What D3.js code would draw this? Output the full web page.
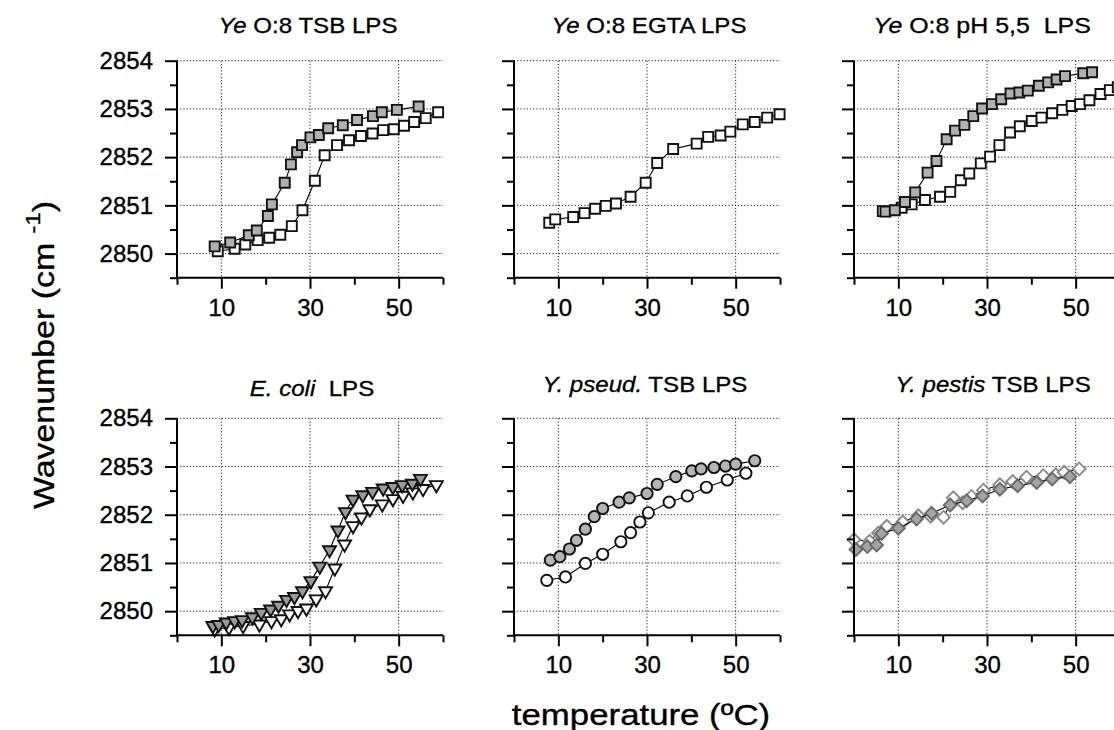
<!DOCTYPE html>
<html><head><meta charset="utf-8">
<script src="https://cdn.jsdelivr.net/npm/d3@7"></script>
<style>
body{margin:0;background:#fff}
svg{display:block}
text{font-family:"Liberation Sans",Arial,Helvetica,sans-serif;fill:#000;white-space:pre}
</style>
</head><body>
<svg id="chart" width="1114" height="730"></svg>
<script>
// ---------- data ----------
const xTickLabels = [10, 30, 50];
const yTickLabels = [2850, 2851, 2852, 2853, 2854];

// Panel 1: Ye O:8 TSB LPS
const p1GrayT = [8.5,12.0,16.2,18.0,20.5,21.4,24.3,25.7,27.1,28.2,30.1,32.0,34.1,37.4,40.6,44.2,46.2,49.6,54.5];
const p1GrayY = [2850.15,2850.23,2850.38,2850.48,2850.78,2851.02,2851.47,2851.85,2852.10,2852.25,2852.41,2852.46,2852.60,2852.66,2852.77,2852.85,2852.93,2852.98,2853.05];
const p1OpenT = [9.2,13.0,15.4,18.2,20.8,23.3,25.9,28.3,31.1,33.3,36.1,38.8,41.5,44.1,46.5,48.9,51.2,53.5,56.1,58.9];
const p1OpenY = [2850.05,2850.10,2850.19,2850.28,2850.33,2850.39,2850.57,2850.90,2851.51,2852.04,2852.25,2852.35,2852.44,2852.49,2852.56,2852.58,2852.65,2852.73,2852.81,2852.93];

// Panel 2: Ye O:8 EGTA LPS
const p2OpenT = [7.95,9.3,13.35,15.9,18.3,20.7,23.0,26.3,29.7,32.3,35.9,41.2,43.8,46.6,48.8,51.6,54.3,57.1,59.9];
const p2OpenY = [2850.64,2850.71,2850.76,2850.84,2850.93,2850.99,2851.04,2851.18,2851.47,2851.88,2852.17,2852.28,2852.42,2852.45,2852.53,2852.68,2852.73,2852.82,2852.89];

// Panel 3: Ye O:8 pH 5,5 LPS
const p3GrayT = [7.1,9.2,11.5,13.8,16.6,18.6,20.9,22.8,24.9,26.9,28.9,31.1,33.2,35.3,37.3,39.2,41.7,43.8,45.7,47.6,51.7,53.7];
const p3GrayY = [2850.87,2850.90,2851.07,2851.27,2851.68,2851.92,2852.37,2852.55,2852.67,2852.85,2853.01,2853.10,2853.20,2853.32,2853.34,2853.38,2853.48,2853.55,2853.61,2853.68,2853.74,2853.76];
const p3OpenT = [6.5,10.75,13.0,16.0,19.4,21.7,24.1,26.0,28.6,30.7,32.8,35.2,37.4,40.1,42.3,44.7,47.0,49.1,51.0,53.1,55.6,57.7,59.5];
const p3OpenY = [2850.88,2850.95,2851.02,2851.11,2851.18,2851.28,2851.52,2851.66,2851.87,2852.01,2852.25,2852.51,2852.64,2852.75,2852.82,2852.91,2852.98,2853.06,2853.10,2853.18,2853.31,2853.39,2853.45];

// Panel 4: E. coli LPS
const p4GrayT = [8.1,9.4,11.1,13.0,14.7,17.0,19.0,21.1,22.9,24.7,26.5,28.3,30.2,32.2,34.4,36.3,38.0,39.7,41.9,44.1,46.5,48.7,50.8,53.1,54.9];
const p4GrayY = [2849.70,2849.72,2849.77,2849.80,2849.82,2849.88,2849.97,2850.04,2850.12,2850.24,2850.30,2850.42,2850.63,2850.93,2851.27,2851.68,2852.06,2852.32,2852.41,2852.48,2852.55,2852.58,2852.62,2852.65,2852.75];
const p4OpenT = [8.5,11.7,14.9,18.6,21.3,23.5,25.4,27.3,29.2,31.4,33.5,35.6,37.8,39.7,41.6,43.5,46.3,48.7,51.0,53.2,55.5,58.5];
const p4OpenY = [2849.63,2849.66,2849.70,2849.73,2849.80,2849.84,2849.94,2850.01,2850.06,2850.25,2850.42,2850.89,2851.39,2851.77,2851.95,2852.12,2852.22,2852.33,2852.40,2852.47,2852.54,2852.62];

// Panel 5: Y. pseud. TSB LPS
const p5GrayT = [8.2,10.35,12.5,14.1,16.1,18.1,20.0,23.7,26.0,30.0,32.3,36.5,40.1,42.2,45.1,47.7,50.0,54.3];
const p5GrayY = [2851.06,2851.13,2851.29,2851.47,2851.70,2851.96,2852.13,2852.26,2852.35,2852.44,2852.63,2852.79,2852.91,2852.95,2852.98,2853.01,2853.05,2853.12];
const p5OpenT = [7.4,11.6,16.1,20.0,24.1,26.3,28.4,30.3,35.0,39.1,43.4,48.1,52.3];
const p5OpenY = [2850.64,2850.71,2850.99,2851.18,2851.44,2851.63,2851.85,2852.04,2852.26,2852.39,2852.57,2852.72,2852.86];

// Panel 6: Y. pestis TSB LPS
const p6GrayT = [0.45,3.0,5.1,6.2,10.0,14.1,17.5,21.7,25.4,29.0,32.9,36.9,41.2,44.7,48.7];
const p6GrayY = [2851.28,2851.34,2851.37,2851.61,2851.72,2851.91,2852.03,2852.20,2852.29,2852.39,2852.53,2852.60,2852.67,2852.74,2852.79];
const p6OpenT = [0.0,3.5,5.5,7.4,11.0,14.5,17.3,20.2,22.4,24.5,26.5,29.2,32.9,35.8,38.9,42.7,45.5,47.4,50.8];
const p6OpenY = [2851.48,2851.45,2851.62,2851.76,2851.85,2851.98,2851.97,2851.95,2852.35,2852.25,2852.38,2852.51,2852.62,2852.69,2852.78,2852.81,2852.83,2852.88,2852.95];

// ---------- layout ----------
const svg = d3.select("#chart");
const colX = [177, 514, 854];
const rowTop = [60.7, 418.3];
const PW = 266, PH = 217;

const zip = (t, y) => t.map((v, i) => ({t: v, y: y[i]}));

function stretch(sel, k) {
  const w = sel.node().getComputedTextLength();
  sel.attr("textLength", w * k).attr("lengthAdjust", "spacingAndGlyphs");
}

const panels = [
  {col:0,row:0, it:"Ye", rest:" O:8 TSB LPS", tx:-2, tdy:0, k:1.12,
   series:[{d:zip(p1OpenT,p1OpenY), shape:"square", fill:"#fff"}, {d:zip(p1GrayT,p1GrayY), shape:"square", fill:"#b0b0b0"}]},
  {col:1,row:0, it:"Ye", rest:" O:8 EGTA LPS", tx:2, tdy:0, k:1.12,
   series:[{d:zip(p2OpenT,p2OpenY), shape:"square", fill:"#fff"}]},
  {col:2,row:0, it:"Ye", rest:" O:8 pH 5,5  LPS", tx:-5, tdy:0, k:1.16,
   series:[{d:zip(p3OpenT,p3OpenY), shape:"square", fill:"#fff"}, {d:zip(p3GrayT,p3GrayY), shape:"square", fill:"#b0b0b0"}]},
  {col:0,row:1, it:"E. coli", rest:"  LPS", tx:2, tdy:4, k:1.12,
   series:[{d:zip(p4OpenT,p4OpenY), shape:"tri", fill:"#fff"}, {d:zip(p4GrayT,p4GrayY), shape:"tri", fill:"#999"}]},
  {col:1,row:1, it:"Y. pseud.", rest:" TSB LPS", tx:-2, tdy:0, k:1.12,
   series:[{d:zip(p5OpenT,p5OpenY), shape:"circle", fill:"#fff"}, {d:zip(p5GrayT,p5GrayY), shape:"circle", fill:"#b4b4b4"}]},
  {col:2,row:1, it:"Y. pestis", rest:" TSB LPS", tx:6, tdy:0, k:1.12,
   series:[{d:zip(p6OpenT,p6OpenY), shape:"diamond", fill:"#fff", stroke:"#8a8a8a"}, {d:zip(p6GrayT,p6GrayY), shape:"diamond", fill:"#a4a4a4", stroke:"#6a6a6a"}]}
];

const symbolPath = {
  square: d3.symbol().type(d3.symbolSquare).size(100)(),
  circle: d3.symbol().type(d3.symbolCircle).size(100)(),
  tri: d3.symbol().type(d3.symbolTriangle).size(72)(),
  diamond: d3.symbol().type(d3.symbolSquare).size(82)()
};
const symbolRot = {square:0, circle:0, tri:180, diamond:45};

panels.forEach(p => {
  const x0 = colX[p.col], y0 = rowTop[p.row];
  const g = svg.append("g").attr("transform", `translate(${x0},${y0})`);
  const x = d3.scaleLinear().domain([0, 60]).range([0, PW]);
  const y = d3.scaleLinear().domain([2849.5, 2854]).range([PH, 0]);

  // grid
  const grid = g.append("g").attr("stroke", "#222").attr("stroke-width", 1).attr("stroke-dasharray", "1.2,2").attr("fill", "none");
  yTickLabels.forEach(v => grid.append("line").attr("x1", 0).attr("x2", PW).attr("y1", y(v)).attr("y2", y(v)));
  xTickLabels.forEach(v => grid.append("line").attr("x1", x(v)).attr("x2", x(v)).attr("y1", 0).attr("y2", PH));

  // series
  p.series.forEach(s => {
    const line = d3.line().x(d => x(d.t)).y(d => y(d.y));
    g.append("path").datum(s.d).attr("d", line).attr("fill", "none").attr("stroke", "#000").attr("stroke-width", 1.1);
    g.selectAll(null).data(s.d).enter().append("path")
      .attr("d", symbolPath[s.shape])
      .attr("transform", d => `translate(${x(d.t)},${y(d.y)}) rotate(${symbolRot[s.shape]})`)
      .attr("fill", s.fill)
      .attr("stroke", s.stroke || "#111")
      .attr("stroke-width", 1.9);
  });

  // y axis
  const yMajor = d3.axisLeft(y).tickValues(yTickLabels).tickSize(12).tickFormat(p.col === 0 ? d3.format("d") : () => "").tickPadding(12);
  const ya = g.append("g").call(yMajor);
  const yMinor = d3.axisLeft(y).tickValues([2849.5, 2850.5, 2851.5, 2852.5, 2853.5]).tickSize(7).tickFormat(() => "");
  const ya2 = g.append("g").call(yMinor);
  // x axis
  const xMajor = d3.axisBottom(x).tickValues(xTickLabels).tickSize(11).tickFormat(d3.format("d")).tickPadding(10);
  const xa = g.append("g").attr("transform", `translate(0,${PH})`).call(xMajor);
  const xMinor = d3.axisBottom(x).tickValues([0, 20, 40, 60]).tickSize(7).tickFormat(() => "");
  const xa2 = g.append("g").attr("transform", `translate(0,${PH})`).call(xMinor);
  [ya, ya2, xa, xa2].forEach(a => {
    a.select(".domain").attr("stroke", "#000").attr("stroke-width", 2);
    a.selectAll(".tick line").attr("stroke", "#000").attr("stroke-width", 2);
    a.selectAll("text").attr("font-size", 24).attr("font-family", '"Liberation Sans",Arial,sans-serif')
      .attr("stroke", "#000").attr("stroke-width", 0.35);
  });
  ya2.select(".domain").remove(); xa2.select(".domain").remove();
  ya.select(".domain").attr("d", `M0,0V${PH}`);
  xa.select(".domain").attr("d", `M0,0H${PW}`);

  // title
  const t = svg.append("text")
    .attr("x", x0 + PW / 2 + p.tx).attr("y", (p.row === 0 ? 33 : 392) + p.tdy)
    .attr("text-anchor", "middle").attr("font-size", 21.5)
    .attr("stroke", "#000").attr("stroke-width", 0.3);
  t.append("tspan").attr("font-style", "italic").text(p.it);
  t.append("tspan").text(p.rest);
  stretch(t, p.k);
});

// axis titles
const yl = svg.append("text").attr("transform", "translate(54,355) rotate(-90)").attr("text-anchor", "middle").attr("font-size", 30)
  .attr("stroke", "#000").attr("stroke-width", 0.35);
yl.append("tspan").text("Wavenumber (cm ");
yl.append("tspan").attr("font-size", 21).attr("dy", -14).text("-1");
yl.append("tspan").attr("dy", 14).text(")");
stretch(yl, 1.13);

const xl = svg.append("text").attr("x", 641).attr("y", 725).attr("text-anchor", "middle").attr("font-size", 30)
  .attr("stroke", "#000").attr("stroke-width", 0.35).text("temperature (\u00BAC)");
stretch(xl, 1.16);
</script>
</body></html>
